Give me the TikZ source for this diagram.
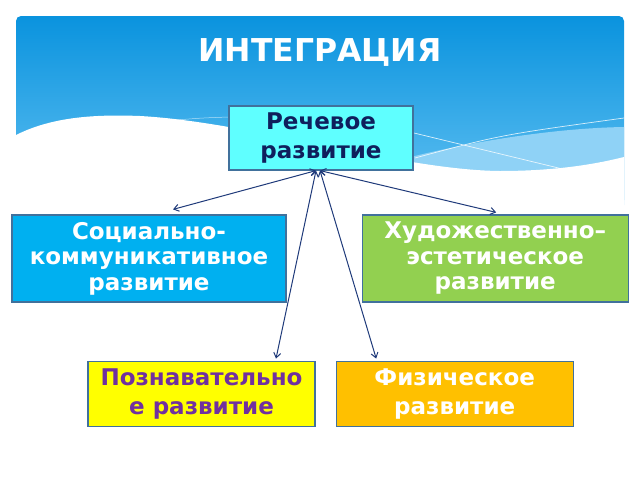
\documentclass[tikz,border=0pt]{standalone}
\usepackage{fontspec}
\setmainfont{DejaVu Sans}
\usetikzlibrary{positioning,arrows.meta}

\definecolor{skytop}{HTML}{0A93DE}
\definecolor{skybottom}{HTML}{62C1F2}
\definecolor{skyband}{HTML}{8FD2F6}
\definecolor{boxedge}{HTML}{41719C}
\definecolor{linkblue}{HTML}{1F3A7A}
\definecolor{speechfill}{HTML}{5FFFFF}
\definecolor{speechtext}{HTML}{0F1F5C}
\definecolor{socialfill}{HTML}{00B0F0}
\definecolor{artfill}{HTML}{92D050}
\definecolor{cognfill}{HTML}{FFFF00}
\definecolor{cogntext}{HTML}{7030A0}
\definecolor{physfill}{HTML}{FFC000}

\begin{document}
\begin{tikzpicture}[x=1pt,y=-1pt,
  box/.style={draw=boxedge, line width=1.2pt, align=center, inner sep=0pt,
    font=\bfseries\fontsize{23}{29}\selectfont},
  tallbox/.style={box, font=\bfseries\fontsize{23}{25.5}\selectfont},
  link/.style={draw=linkblue, line width=1pt,
    {Straight Barb[length=5pt,width=7pt]}-{Straight Barb[length=5pt,width=7pt]}}]

\useasboundingbox (0,0) rectangle (640,480);

% sky with wave
\shade[top color=skytop, bottom color=skybottom, rounded corners=5pt]
  (16,16) rectangle (624,205);
\fill[skyband] (380,165) .. controls (470,140) and (560,128) .. (624,127)
  -- (624,205) -- (380,205) -- cycle;
\draw[white, line width=0.7pt, opacity=0.8] (414,133) -- (575,172);
\draw[white, line width=0.7pt, opacity=0.8] (415,158) .. controls (500,135) .. (624,118);
\draw[white, line width=0.5pt, opacity=0.6] (165,121) .. controls (200,118) .. (229,117);
\fill[white] (16,135) .. controls (50,118) and (90,114) .. (140,116)
  .. controls (250,122) and (400,170) .. (500,171)
  .. controls (560,171) and (600,163) .. (624,157)
  -- (624,206) -- (16,206) -- cycle;

\node[white, font=\bfseries\fontsize{31.5}{36}\selectfont] (title) at (320,52) {ИНТЕГРАЦИЯ};

\node[box, fill=speechfill, text=speechtext, minimum width=184pt, minimum height=64pt]
  (speech) at (321,138) {Речевое\\развитие};
\node[tallbox, fill=socialfill, text=white, minimum width=274pt, minimum height=87pt]
  (social) at (149,258.5) {Социально-\\коммуникативное\\развитие};
\node[tallbox, fill=artfill, text=white, minimum width=266pt, minimum height=87pt]
  (art) [right=75pt of social] {Художественно–\\эстетическое\\развитие};
\node[box, fill=cognfill, text=cogntext, minimum width=227pt, minimum height=65pt]
  (cogn) [below=58pt of social, xshift=52.5pt] {Познавательно\\е развитие};
\node[box, fill=physfill, text=white, minimum width=237pt, minimum height=65pt]
  (phys) [right=20pt of cogn] {Физическое\\развитие};

\draw[link] ([xshift=-5pt]speech.south) -- ([shift={(24pt,5pt)}]social.north);
\draw[link] ([xshift=-1pt]speech.south) -- ([shift={(1pt,2pt)}]art.north);
\draw[link] ([xshift=-5pt]speech.south) -- ([shift={(74.5pt,2pt)}]cogn.north);
\draw[link] ([xshift=-1pt]speech.south) -- ([shift={(-78.5pt,2pt)}]phys.north);
\end{tikzpicture}
\end{document}
